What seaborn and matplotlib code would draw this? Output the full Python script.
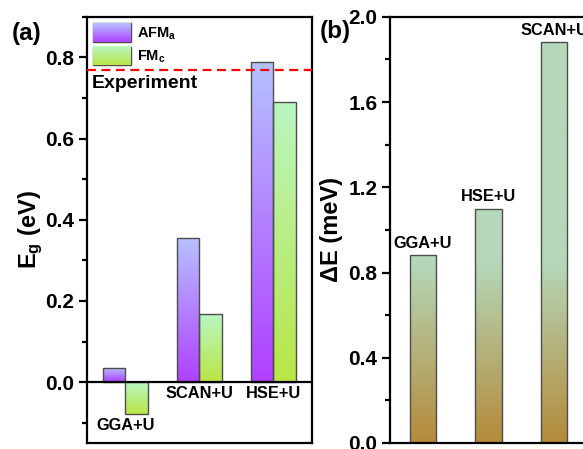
import numpy as np
import pandas as pd
import matplotlib
matplotlib.use("Agg")
import matplotlib.pyplot as plt
import seaborn as sns
from matplotlib.ticker import MultipleLocator

# data
methods_a = ["GGA+U", "SCAN+U", "HSE+U"]
eg_afm = [0.035, 0.355, 0.79]
eg_fm = [-0.078, 0.167, 0.69]
eg_experiment = 0.77

methods_b = ["GGA+U", "HSE+U", "SCAN+U"]
delta_e = [0.88, 1.10, 1.88]

sns.set_style("white")
plt.rcParams["font.family"] = ["Liberation Sans", "DejaVu Sans"]
plt.rcParams["font.weight"] = "bold"
plt.rcParams["axes.labelweight"] = "bold"
plt.rcParams["text.color"] = "black"
plt.rcParams["axes.labelcolor"] = "black"
plt.rcParams["xtick.color"] = "black"
plt.rcParams["ytick.color"] = "black"
plt.rcParams["mathtext.fontset"] = "custom"
plt.rcParams["mathtext.rm"] = "Liberation Sans:bold"
plt.rcParams["mathtext.it"] = "Liberation Sans:bold"
plt.rcParams["mathtext.bf"] = "Liberation Sans:bold"

afm_cols = (np.array([176, 64, 255]) / 255, np.array([182, 194, 255]) / 255)
fm_cols = (np.array([184, 230, 70]) / 255, np.array([186, 246, 194]) / 255)
de_cols = (np.array([180, 138, 58]) / 255, np.array([181, 216, 186]) / 255)


def vgrad(bottom, top, t):
    t = np.clip(t, 0, 1)[:, None, None]
    return bottom[None, None, :] * (1 - t) + top[None, None, :] * t


def fill_bar(ax, patch, img, extent):
    im = ax.imshow(img, extent=extent, origin="lower", aspect="auto",
                   interpolation="bilinear", zorder=1.5)
    im.set_clip_path(patch)
    patch.set_facecolor("none")
    patch.set_edgecolor("#4d4d4d")
    patch.set_linewidth(1.0)
    patch.set_zorder(2)


def style_axis(ax, major, minor):
    for s in ax.spines.values():
        s.set_visible(True)
        s.set_linewidth(1.6)
        s.set_color("black")
    ax.yaxis.set_major_locator(MultipleLocator(major))
    ax.yaxis.set_minor_locator(MultipleLocator(minor))
    ax.tick_params(axis="y", which="major", direction="out", length=6, width=1.6,
                   left=True, labelsize=15, pad=3)
    ax.tick_params(axis="y", which="minor", direction="out", length=3.5, width=1.6, left=True)
    ax.tick_params(axis="x", bottom=False, labelbottom=False)
    ax.set_xlabel("")


fig = plt.figure(figsize=(5.83, 4.49), dpi=100)
ax1 = fig.add_axes([0.149, 0.0134, 0.386, 0.949])
ax2 = fig.add_axes([0.669, 0.0134, 0.338, 0.949])

# (a) band gaps
df_a = pd.DataFrame({
    "method": methods_a * 2,
    "Eg": eg_afm + eg_fm,
    "phase": ["AFM"] * len(methods_a) + ["FM"] * len(methods_a),
})
sns.barplot(data=df_a, x="method", y="Eg", hue="phase", width=0.6, legend=False, ax=ax1)
n = len(methods_a)
for i, p in enumerate(ax1.patches[:2 * n]):
    lo, hi = (afm_cols if i < n else fm_cols)
    x0, w = p.get_x(), p.get_width()
    y0, h = p.get_y(), p.get_height()
    ylo, yhi = min(y0, y0 + h), max(y0, y0 + h)
    fill_bar(ax1, p, vgrad(lo, hi, np.linspace(0, 1, 100)), [x0, x0 + w, ylo, yhi])

ax1.axhline(0, color="black", lw=1.6, zorder=3)
ax1.axhline(eg_experiment, color="red", lw=1.6, ls=(0, (4, 2.5)), zorder=3)
ax1.annotate("Experiment", (-0.46, eg_experiment), xytext=(0, -4), textcoords="offset points",
             ha="left", va="top", fontsize=14, fontweight="bold")
for i, m in enumerate(methods_a):
    ylab = min(0, eg_afm[i], eg_fm[i])
    ax1.annotate(m, (i, ylab), xytext=(0, -3), textcoords="offset points",
                 ha="center", va="top", fontsize=11.8, fontweight="bold")

style_axis(ax1, 0.2, 0.1)
ax1.set_xlim(-0.52, 2.52)
ax1.set_ylim(-0.15, 0.9)
ax1.set_ylabel("E$_{g}$ (eV)", fontsize=17, labelpad=0)
ax1.text(-0.335, 0.962, "(a)", transform=ax1.transAxes, fontsize=17.5, fontweight="bold",
         ha="left", va="center")

handles = [plt.Rectangle((0, 0), 1, 1, facecolor=tuple(afm_cols[1]), edgecolor="#4d4d4d", lw=1.0),
           plt.Rectangle((0, 0), 1, 1, facecolor=tuple(fm_cols[1]), edgecolor="#4d4d4d", lw=1.0)]
leg = ax1.legend(handles, ["AFM$_{a}$", "FM$_{c}$"], loc="upper left", frameon=False,
                 fontsize=10.5, handlelength=2.6, handleheight=1.6, labelspacing=0.3,
                 handletextpad=0.4, borderaxespad=0.25, borderpad=0.2)

# (b) energy differences
sns.barplot(x=methods_b, y=delta_e, width=0.4, color="gray", ax=ax2)
for p in ax2.patches[:len(methods_b)]:
    x0, w, h = p.get_x(), p.get_width(), p.get_height()
    ys = np.linspace(0, h, 200)
    fill_bar(ax2, p, vgrad(de_cols[0], de_cols[1], ys / 0.85), [x0, x0 + w, 0, h])
for i, m in enumerate(methods_b):
    ax2.annotate(m, (i, delta_e[i]), xytext=(0, 3), textcoords="offset points",
                 ha="center", va="bottom", fontsize=11.8, fontweight="bold")

style_axis(ax2, 0.4, 0.2)
ax2.set_xlim(-0.5, 2.5)
ax2.set_ylim(0, 2.0)
ax2.set_ylabel("ΔE (meV)", fontsize=17, labelpad=4)
ax2.text(-0.355, 0.965, "(b)", transform=ax2.transAxes, fontsize=17.5, fontweight="bold",
         ha="left", va="center")

# gradient legend swatches
fig.canvas.draw()
inv = ax1.transAxes.inverted()
for hnd, (lo, hi) in zip(leg.legend_handles, [afm_cols, fm_cols]):
    bb = hnd.get_window_extent(fig.canvas.get_renderer())
    (ax0, ay0), (ax1_, ay1) = inv.transform([[bb.x0, bb.y0], [bb.x1, bb.y1]])
    ax1.imshow(vgrad(lo, hi, np.linspace(0, 1, 50)), extent=[ax0, ax1_, ay0, ay1],
               transform=ax1.transAxes, origin="lower", aspect="auto", zorder=6)
    hnd.set_facecolor("none")
    hnd.set_zorder(7)
ax1.set_xlim(-0.52, 2.52)
ax1.set_ylim(-0.15, 0.9)

fig.savefig("out.png", dpi=100)
